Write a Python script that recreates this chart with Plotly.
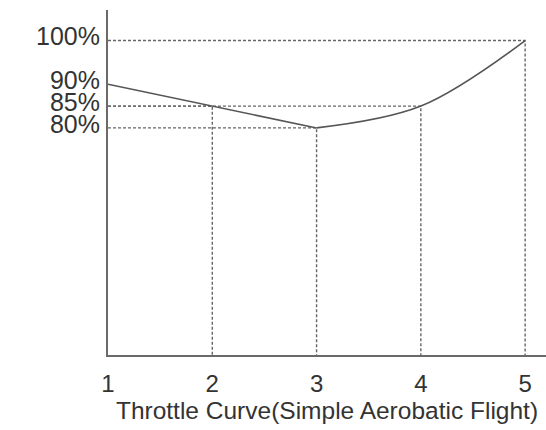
import plotly.graph_objects as go

# Throttle curve points (stick position -> throttle %)
positions = [1, 2, 3, 4, 5]
throttle = [90, 85, 80, 85, 100]
tick_values = [80, 85, 90, 100]
tick_labels = ["80%", "85%", "90%", "100%"]
x_labels = ["1", "2", "3", "4", "5"]
title_text = "Throttle Curve(Simple Aerobatic Flight)"

X_RANGE = [1, 5.2]
Y_RANGE = [28, 107]

LINE = "#555555"
GUIDE = "#666666"
TEXT = "#333333"
FONT = "Liberation Sans, Arial, sans-serif"

fig = go.Figure()

# dotted guide lines: from the y axis across to each point, then down to the x axis
for i, (x, y) in enumerate(zip(positions, throttle)):
    if i == 0:
        continue
    fig.add_trace(go.Scatter(
        x=[X_RANGE[0], x, x], y=[y, y, Y_RANGE[0]],
        mode="lines", line=dict(color=GUIDE, width=1.4, dash="3px,2px"),
        hoverinfo="skip", showlegend=False,
    ))

# straight part of the curve (points 1..3)
fig.add_trace(go.Scatter(
    x=positions[:3], y=throttle[:3], mode="lines",
    line=dict(color=LINE, width=1.6), showlegend=False,
))
# smoothed part of the curve (points 3..5)
fig.add_trace(go.Scatter(
    x=positions[2:], y=throttle[2:], mode="lines",
    line=dict(color=LINE, width=1.6, shape="spline", smoothing=1),
    showlegend=False,
))

fig.update_layout(
    width=546, height=430,
    margin=dict(l=108, r=0, t=10, b=75),
    paper_bgcolor="white", plot_bgcolor="white",
    font=dict(family=FONT, color=TEXT),
    xaxis=dict(
        range=X_RANGE, showgrid=False, zeroline=False,
        showline=True, linecolor="#6a6a6a", linewidth=2,
        tickvals=positions, ticktext=x_labels, ticks="",
        tickfont=dict(size=24, color=TEXT), ticklabelstandoff=6,
        title=dict(text=title_text, font=dict(size=24.5, color=TEXT), standoff=0),
    ),
    yaxis=dict(
        range=Y_RANGE, showgrid=False, zeroline=False,
        showline=True, linecolor="#6a6a6a", linewidth=2,
        tickvals=tick_values, ticktext=tick_labels, ticks="",
        tickfont=dict(size=25, color=TEXT), ticklabelstandoff=1,
        ticklabelshift=-4,
    ),
)

fig.write_html("out.html")
